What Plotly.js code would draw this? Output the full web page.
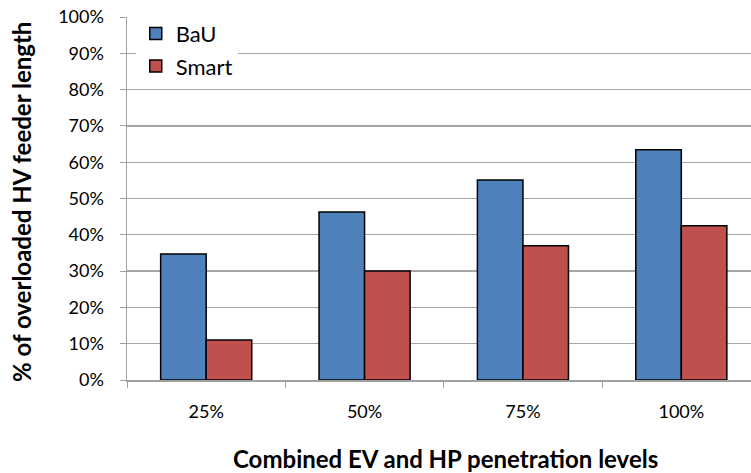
<!DOCTYPE html>
<html><head><meta charset="utf-8">
<script src="https://cdn.plot.ly/plotly-3.0.1.min.js"></script>
<style>html,body{margin:0;padding:0;background:#fff;}#chart{width:751px;height:473px;}</style>
</head><body><div id="chart"></div>
<script>
const categories = ["25%", "50%", "75%", "100%"];
const bauValues = [34.7, 46.3, 55.1, 63.4];
const smartValues = [11.0, 30.0, 37.0, 42.5];
const seriesNames = ["BaU", "Smart"];
const yTickVals = [0,10,20,30,40,50,60,70,80,90,100];
const yTickText = yTickVals.map(v => v + "%");

const font = "Lato, 'Open Sans', sans-serif";
const traces = [
  {type:"bar", name:seriesNames[0], x:categories, y:bauValues, legendgroup:"a",
   marker:{color:"#4F81BD", line:{color:"#000", width:1.5}}},
  {type:"bar", name:seriesNames[1], x:categories, y:smartValues, legendgroup:"b",
   marker:{color:"#C0504D", line:{color:"#000", width:1.5}}}
];
const layout = {
  width:751, height:473,
  margin:{l:127, r:0, t:17, b:93},
  paper_bgcolor:"#fff", plot_bgcolor:"#fff",
  barmode:"group", bargap:0.425, bargroupgap:0,
  font:{family:font, color:"#000"},
  showlegend:true,
  legend:{x:0.014, xanchor:"left", y:1.012, yanchor:"top", bgcolor:"#fff",
          traceorder:"grouped", tracegroupgap:1,
          font:{size:22, family:font}, itemwidth:30},
  xaxis:{type:"category", range:[-0.5, 3.44], showgrid:false,
         showline:true, linecolor:"#A0A0A0", linewidth:1.5,
         ticks:"outside", tickson:"boundaries", ticklen:6, tickcolor:"#A0A0A0",
         tickfont:{size:18, family:font}, ticklabelstandoff:15,
         title:{text:""}},
  yaxis:{range:[0,100], tickvals:yTickVals, ticktext:yTickText,
         showgrid:true, gridcolor:"#A6A6A6", gridwidth:1.3,
         showline:true, linecolor:"#A0A0A0", linewidth:1.5,
         ticks:"outside", ticklen:6, tickcolor:"#A0A0A0",
         tickfont:{size:18, family:font}, ticklabelstandoff:12,
         zeroline:false, title:{text:""}},
  annotations:[
    {text:"<b>Combined EV and HP penetration levels</b>", xref:"paper", yref:"paper",
     x:0.51, y:-0.215, xanchor:"center", yanchor:"middle", showarrow:false,
     font:{size:24, family:font}},
    {text:"<b>% of overloaded HV feeder length</b>", xref:"paper", yref:"paper",
     x:-0.17, y:0.49, xanchor:"center", yanchor:"middle", textangle:-90, showarrow:false,
     font:{size:24, family:font}}
  ]
};
Plotly.newPlot("chart", traces, layout, {displayModeBar:false, staticPlot:true});
</script></body></html>
